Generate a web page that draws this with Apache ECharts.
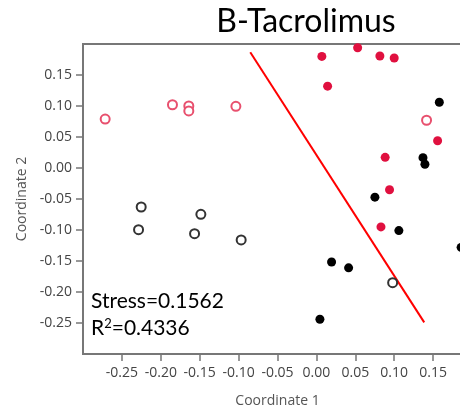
<!DOCTYPE html>
<html>
<head>
<meta charset="utf-8">
<script src="https://cdn.jsdelivr.net/npm/echarts@6/dist/echarts.min.js"></script>
<style>html,body{margin:0;padding:0;background:#fff}#c{width:460px;height:414px}</style>
</head>
<body>
<div id="c"></div>
<script>
// Data (Coordinate 1, Coordinate 2)
var redOpen = [[-0.2715, 0.079], [-0.185, 0.102], [-0.164, 0.100], [-0.164, 0.092], [-0.1035, 0.0995], [0.1416, 0.077]];
var redFilled = [[0.007, 0.180], [0.053, 0.194], [0.0816, 0.1806], [0.100, 0.1774], [0.0144, 0.132], [0.1558, 0.044], [0.0884, 0.0172], [0.094, -0.035], [0.083, -0.095]];
var blackFilled = [[0.158, 0.106], [0.137, 0.0167], [0.1395, 0.006], [0.0752, -0.047], [0.106, -0.101], [0.186, -0.128], [0.0195, -0.1516], [0.0414, -0.161], [0.0045, -0.244]];
var blackOpen = [[-0.2252, -0.0629], [-0.2286, -0.0995], [-0.1485, -0.0747], [-0.1566, -0.106], [-0.0967, -0.116], [0.098, -0.185]];
var boundaryLine = [[-0.085, 0.1866], [0.1386, -0.249]];
var xTicks = [-0.25, -0.20, -0.15, -0.10, -0.05, 0.00, 0.05, 0.10, 0.15];
var yTicks = [-0.25, -0.20, -0.15, -0.10, -0.05, 0.00, 0.05, 0.10, 0.15];
var titleText = 'B-Tacrolimus';
var stressText = 'Stress=0.1562';
var r2Value = '=0.4336';

var chart = echarts.init(document.getElementById('c'), null, {renderer: 'canvas'});
var axisColor = '#777777';
var labelStyle = {fontFamily: 'Open Sans', fontSize: 14, color: '#444444'};
function fmt(v) { return v.toFixed(2); }

chart.setOption({
  animation: false,
  backgroundColor: '#ffffff',
  grid: {left: 83, top: 44, bottom: 60, width: 389, outerBoundsMode: 'none', containLabel: false,
    show: true, borderColor: axisColor, borderWidth: 2, backgroundColor: 'transparent'},
  xAxis: {
    type: 'value', min: -0.30, max: 0.20, interval: 0.05,
    splitLine: {show: false},
    axisLine: {show: true, onZero: false, lineStyle: {color: axisColor, width: 2}},
    axisTick: {show: true, length: 7, customValues: xTicks, lineStyle: {color: axisColor, width: 1.5}},
    axisLabel: Object.assign({margin: 12, customValues: xTicks, formatter: fmt}, labelStyle),
    name: 'Coordinate 1', nameLocation: 'middle', nameGap: 40,
    nameTextStyle: {fontFamily: 'Open Sans', fontSize: 14, color: '#555555'}
  },
  yAxis: {
    type: 'value', min: -0.30, max: 0.20, interval: 0.05,
    splitLine: {show: false},
    axisLine: {show: true, onZero: false, lineStyle: {color: axisColor, width: 2}},
    axisTick: {show: true, length: 7, customValues: yTicks, lineStyle: {color: axisColor, width: 1.5}},
    axisLabel: Object.assign({margin: 11, customValues: yTicks, formatter: fmt}, labelStyle),
    name: 'Coordinate 2', nameLocation: 'middle', nameGap: 54,
    nameTextStyle: {fontFamily: 'Open Sans', fontSize: 14, color: '#555555'}
  },
  series: [
    {type: 'line', data: boundaryLine, symbol: 'none', lineStyle: {color: '#ff0000', width: 2}, z: 1},
    {type: 'scatter', data: redOpen, symbol: 'circle', symbolSize: 9, itemStyle: {color: '#ffffff', borderColor: '#e8506e', borderWidth: 2, opacity: 1}, z: 3},
    {type: 'scatter', data: blackOpen, symbol: 'circle', symbolSize: 9, itemStyle: {color: '#ffffff', borderColor: '#333333', borderWidth: 2, opacity: 1}, z: 3},
    {type: 'scatter', data: redFilled, symbol: 'circle', symbolSize: 9, itemStyle: {color: '#e0103f', opacity: 1}, z: 3},
    {type: 'scatter', data: blackFilled, symbol: 'circle', symbolSize: 9, itemStyle: {color: '#000000', opacity: 1}, z: 3}
  ],
  graphic: [
    {type: 'text', x: 306, y: 22, style: {text: titleText, fontFamily: 'Lato', fontSize: 32, fill: '#000000', align: 'center', verticalAlign: 'middle'}},
    {type: 'text', x: 91, y: 301, style: {text: stressText, fontFamily: 'Lato', fontSize: 21, fill: '#000000', align: 'left', verticalAlign: 'middle'}},
    {type: 'text', x: 91, y: 328, style: {text: 'R{sup|2}' + r2Value, fontFamily: 'Lato', fontSize: 21, fill: '#000000', align: 'left', verticalAlign: 'middle',
      rich: {sup: {fontFamily: 'Lato', fontSize: 13, fill: '#000000', padding: [0, 0, 9, 0]}}}}
  ]
});
</script>
</body>
</html>
